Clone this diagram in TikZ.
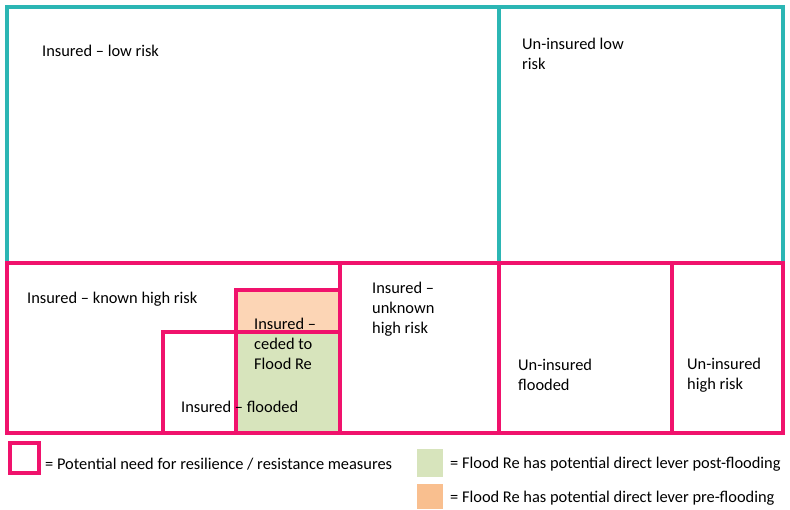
\documentclass[tikz,border=0pt]{standalone}
\usepackage{fontspec}
\setmainfont{Carlito}
\usepackage{tikz}
\usetikzlibrary{positioning}
\definecolor{lowrisk}{HTML}{2BB6B4}
\definecolor{highrisk}{HTML}{F0126C}
\definecolor{peach}{HTML}{FCD5B5}
\definecolor{sage}{HTML}{D7E4BC}
\definecolor{apricot}{HTML}{F9BF8F}
\tikzset{
    boxtext/.style={anchor=west,align=left,inner sep=0,font=\fontsize{16.4}{20}\selectfont},
    keytext/.style={anchor=west,inner sep=0,font=\fontsize{16.4}{20}\selectfont},
    tealline/.style={draw=lowrisk,line width=3.4},
    pinkline/.style={draw=highrisk,line width=3.4}
}
\newcommand{\area}[5]{
    \draw[#5] (#1,#2) rectangle (#3,#4);
}

\begin{document}
\begin{tikzpicture}[x=1pt,y=-1pt]
        \useasboundingbox (0,0) rectangle (790,509);

        % fills
        \fill[peach] (236,290) rectangle (340,332);
        \fill[sage] (236,332) rectangle (340,433);

        % low risk
        \area{7}{7}{783}{263}{tealline};
        \draw[tealline] (499,7) -- (499,263);

        % high risk
        \area{7}{263}{783}{433}{pinkline};
        \draw[pinkline] (340,263) -- (340,433);
        \draw[pinkline] (499,263) -- (499,433);
        \draw[pinkline] (672,263) -- (672,433);
        \area{163}{332}{340}{433}{pinkline};
        \area{236}{290}{340}{433}{pinkline};

        \node[boxtext] (inslow) at (42,51) {Insured – low risk};
        \node[boxtext] (uninslow) at (522,54) {Un-insured low\\risk};
        \node[boxtext] (inshigh) at (27,299) {Insured – known high risk};
        \node[boxtext] (insceded) at (254,344) {Insured –\\ceded to\\Flood Re};
        \node[boxtext] (insflood) at (181,407) {Insured – flooded};
        \node[boxtext] (insunknown) at (372,309) {Insured –\\unknown\\high risk};
        \node[boxtext] (uninsflood) at (518,375) {Un-insured\\flooded};
        \node[boxtext] (uninshigh) at (687,375) {Un-insured\\high risk};

        % legend
        \area{10}{443}{39}{473}{pinkline};
        \node[keytext] (keyneed) at (45,464) {= Potential need for resilience / resistance measures};
        \fill[sage] (417,449) rectangle (443,477);
        \node[keytext] (keypost) at (450,464) {= Flood Re has potential direct lever post-flooding};
        \fill[apricot] (417,484) rectangle (443,509);
        \node[keytext] (keypre) at (450,498) {= Flood Re has potential direct lever pre-flooding};

\end{tikzpicture}
\end{document}
